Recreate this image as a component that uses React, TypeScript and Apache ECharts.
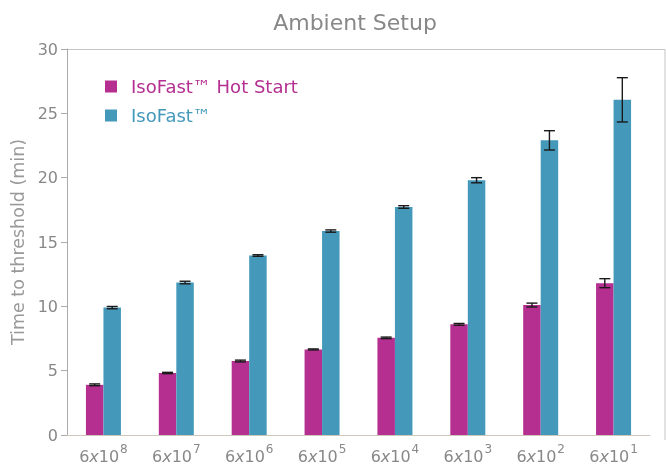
import React, { useEffect, useRef } from "react";
import * as echarts from "echarts";

const exponents = ["8", "7", "6", "5", "4", "3", "2", "1"];
const hotStart = [3.9, 4.82, 5.75, 6.65, 7.55, 8.6, 10.1, 11.8];
const hotStartErr = [0.07, 0.05, 0.07, 0.04, 0.06, 0.07, 0.15, 0.35];
const isoFast = [9.9, 11.85, 13.95, 15.85, 17.72, 19.8, 22.9, 26.05];
const isoFastErr = [0.09, 0.1, 0.06, 0.09, 0.1, 0.2, 0.75, 1.72];
const seriesNames = ["IsoFast™ Hot Start", "IsoFast™"];
const colors = ["#B42F90", "#4499BB"];

const FONT = "DejaVu Sans";
const BAR_W = 17.5;

function errData(vals: number[], errs: number[]) {
  return vals.map((v, i) => [i, v - errs[i], v + errs[i]]);
}

function makeRender(offset: number) {
  return (params: any, api: any) => {
    const xi = api.value(0);
    const lo = api.coord([xi, api.value(1)]);
    const hi = api.coord([xi, api.value(2)]);
    const x = lo[0] + offset;
    const cap = 5.5;
    const style = { stroke: "#1a1a1a", lineWidth: 1.4 };
    return {
      type: "group",
      children: [
        { type: "line", shape: { x1: x, y1: hi[1], x2: x, y2: lo[1] }, style },
        { type: "line", shape: { x1: x - cap, y1: hi[1], x2: x + cap, y2: hi[1] }, style },
        { type: "line", shape: { x1: x - cap, y1: lo[1], x2: x + cap, y2: lo[1] }, style },
      ],
    };
  };
}

export default function App() {
  const ref = useRef<HTMLDivElement>(null);
  useEffect(() => {
    if (!ref.current) return;
    const chart = echarts.init(ref.current, null, { renderer: "svg" });
    chart.setOption({
      animation: false,
      textStyle: { fontFamily: FONT },
      title: {
        text: "Ambient Setup",
        left: 350,
        textAlign: "center",
        top: 6,
        textStyle: { fontFamily: FONT, fontSize: 22, fontWeight: "normal", color: "#888" },
      },
      legend: {
        orient: "vertical",
        left: 100,
        top: 71,
        icon: "rect",
        itemWidth: 12,
        itemHeight: 12,
        itemGap: 8,
        data: seriesNames.map((n, i) => ({
          name: n,
          textStyle: {
            color: colors[i],
            fontSize: 18,
            fontFamily: FONT,
            padding: [0, 0, 0, 9],
            lineHeight: 21,
          },
        })),
      },
      grid: { left: 67, right: 16, top: 49, bottom: 26 },
      xAxis: {
        type: "category",
        data: exponents,
        axisLine: { lineStyle: { color: "#cfc7ba", width: 1 } },
        axisTick: { alignWithLabel: true, length: 4, lineStyle: { color: "#aaa" } },
        axisLabel: {
          interval: 0,
          margin: 8,
          formatter: (v: string) => `{b|6}{i|x}{b|10}{s|${v}}`,
          rich: {
            b: { fontSize: 16, color: "#888", fontFamily: FONT, verticalAlign: "bottom" },
            i: { fontSize: 16, color: "#888", fontFamily: FONT, fontStyle: "italic", verticalAlign: "bottom" },
            s: { fontSize: 12, color: "#888", fontFamily: FONT, verticalAlign: "top", padding: [0, 0, 9, 1] },
          },
        },
      },
      yAxis: {
        type: "value",
        min: 0,
        max: 30,
        interval: 5,
        name: "Time to threshold (min)",
        nameLocation: "middle",
        nameGap: 38,
        nameTextStyle: { fontSize: 17.5, color: "#999", fontFamily: FONT },
        axisLine: { show: true, lineStyle: { color: "#aaa" } },
        axisTick: { show: true, length: 6, lineStyle: { color: "#aaa" } },
        axisLabel: { fontSize: 16, color: "#888", margin: 9, fontFamily: FONT },
        splitLine: { show: false },
      },
      graphic: [
        { type: "line", shape: { x1: 67, y1: 49.5, x2: 665, y2: 49.5 }, style: { stroke: "#c4c4c4", lineWidth: 1 } },
        { type: "line", shape: { x1: 665, y1: 49.5, x2: 665, y2: 440 }, style: { stroke: "#c4c4c4", lineWidth: 1 } },
      ],
      series: [
        {
          name: seriesNames[0],
          type: "bar",
          data: hotStart,
          barWidth: BAR_W,
          barGap: "0%",
          itemStyle: { color: colors[0] },
        },
        {
          name: seriesNames[1],
          type: "bar",
          data: isoFast,
          barWidth: BAR_W,
          barGap: "0%",
          itemStyle: { color: colors[1] },
        },
        {
          type: "custom",
          data: errData(hotStart, hotStartErr),
          renderItem: makeRender(-BAR_W / 2),
          z: 10,
          silent: true,
        },
        {
          type: "custom",
          data: errData(isoFast, isoFastErr),
          renderItem: makeRender(BAR_W / 2),
          z: 10,
          silent: true,
        },
      ],
    });
    return () => chart.dispose();
  }, []);
  return (
    <div
      ref={ref}
      style={{ position: "fixed", left: 0, top: 0, width: 666, height: 464 }}
    />
  );
}
